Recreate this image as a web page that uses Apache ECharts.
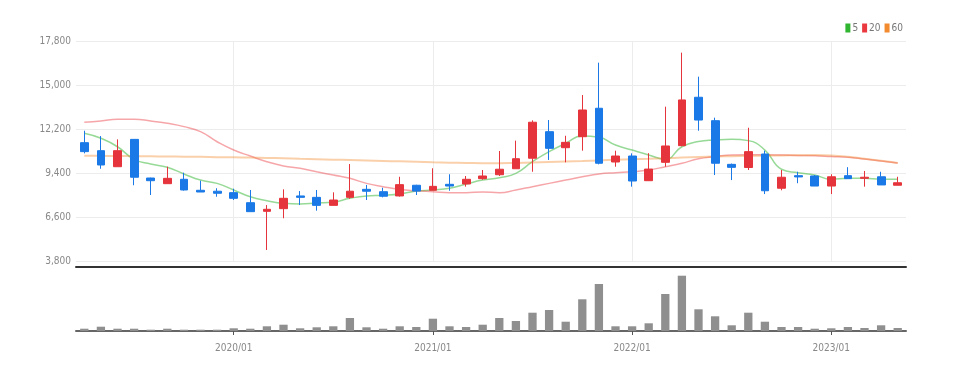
<!DOCTYPE html>
<html><head><meta charset="utf-8">
<script src="https://cdn.jsdelivr.net/npm/echarts@6/dist/echarts.min.js"></script>
<style>html,body{margin:0;padding:0;background:#fff}#c{width:956px;height:372px}</style>
</head><body><div id="c"></div>
<script>
const categories = ['2019/04','2019/05','2019/06','2019/07','2019/08','2019/09','2019/10','2019/11','2019/12',
  '2020/01','2020/02','2020/03','2020/04','2020/05','2020/06','2020/07','2020/08','2020/09','2020/10','2020/11','2020/12',
  '2021/01','2021/02','2021/03','2021/04','2021/05','2021/06','2021/07','2021/08','2021/09','2021/10','2021/11','2021/12',
  '2022/01','2022/02','2022/03','2022/04','2022/05','2022/06','2022/07','2022/08','2022/09','2022/10','2022/11','2022/12',
  '2023/01','2023/02','2023/03','2023/04','2023/05'];
const openValues  = [11330,10820,9800,11540,9080,8720,9000,8300,8240,8150,7510,6960,7130,7940,7850,7340,7850,8360,8210,7940,8620,8300,8680,8700,9040,9290,9670,10340,12030,11010,11710,13520,10100,10480,8910,10080,11140,14220,12730,9950,9750,10610,8430,9230,9210,8570,9230,9060,9160,8620];
const closeValues = [10760,9910,10820,9130,8910,9060,8320,8190,8110,7790,6940,7090,7790,7850,7340,7680,8240,8240,7920,8660,8250,8550,8570,9000,9210,9640,10310,12630,10970,11350,13410,10020,10480,8890,9650,11120,14050,12770,10020,9760,10760,8270,9130,9150,8570,9160,9040,9130,8640,8780];
const lowValues   = [10650,9670,9800,8620,8000,8720,8280,8190,7890,7680,6940,4500,6520,7360,7000,7340,7760,7680,7850,7900,8000,8300,8270,8530,8970,9210,9670,9480,10230,10080,10820,9950,9800,8530,8890,9800,11100,12090,9270,8950,9590,8060,8300,8750,8570,8060,9040,8530,8640,8620];
const highValues  = [12090,11750,11540,11540,9100,9800,9420,8910,8430,8400,8320,7360,8360,8250,8320,8170,9970,8640,8460,9160,8650,9700,9320,9210,9590,10800,11460,12750,12770,11770,14360,16420,10820,10650,10660,13620,17060,15530,12920,10000,12280,10820,9590,9480,9270,9320,9770,9530,9480,9160];
const ma5  = [11930,11610,11070,10270,9970,9760,9340,8950,8740,8320,7890,7640,7470,7430,7490,7550,7790,7940,7980,8060,8250,8320,8430,8700,8950,9100,9380,10120,10760,11290,11750,11670,11180,10860,10550,10270,11070,11400,11500,11550,11460,10860,9640,9420,9270,9000,9060,9060,9000,9000];
const ma20 = [12630,12710,12820,12820,12710,12560,12350,12030,11390,10860,10480,10120,9850,9700,9480,9270,9060,8740,8530,8360,8270,8210,8150,8150,8190,8150,8320,8530,8740,8950,9160,9340,9420,9480,9590,9800,10020,10300,10440,10550,10560,10560,10540,10520,10500,10450,10400,10290,10170,10030];
const ma60 = [10500,10490,10480,10470,10460,10450,10440,10430,10410,10400,10380,10360,10340,10310,10280,10250,10230,10200,10170,10140,10110,10080,10060,10040,10020,10020,10040,10070,10100,10130,10160,10200,10240,10270,10300,10340,10380,10420,10450,10470,10490,10500,10520,10530,10540,10520,10440,10300,10180,10030];
const volumes = [23,43,23,23,13,23,13,13,13,27,23,47,63,27,37,47,130,37,23,47,40,123,47,40,63,130,100,183,210,93,317,470,47,47,77,370,553,217,147,57,183,93,40,40,23,27,40,30,57,30];
const yTickValues = [3800,6600,9400,12200,15000,17800];
const legendNames = ['5','20','60'];

const FONT = '"Liberation Sans Narrow", "DejaVu Sans Condensed", "Liberation Sans", Arial, sans-serif';
const isJan = (i, v) => String(v).endsWith('/01');
const candleData = openValues.map((o, i) => [o, closeValues[i], lowValues[i], highValues[i]]);

const chart = echarts.init(document.getElementById('c'), null, {renderer: 'canvas'});
chart.setOption({
  animation: false,
  backgroundColor: '#fff',
  textStyle: {fontFamily: FONT},
  legend: {
    data: legendNames, right: 48, top: 18, icon: 'rect', itemWidth: 5, itemHeight: 9, itemGap: 4,
    textStyle: {color: '#777', fontSize: 10, fontFamily: FONT, padding: [0,0,0,-3]}
  },
  grid: [
    {left: 76, right: 50, top: 41, height: 220},
    {left: 76, right: 50, top: 267, height: 64}
  ],
  xAxis: [
    {type: 'category', gridIndex: 0, data: categories, boundaryGap: true,
     axisLine: {show: false}, axisTick: {show: false}, axisLabel: {show: false},
     splitLine: {show: true, interval: isJan, alignWithLabel: true, lineStyle: {color: '#ececec', width: 1}}},
    {type: 'category', gridIndex: 1, data: categories, boundaryGap: true, position: 'bottom',
     axisLine: {show: true, lineStyle: {color: '#666', width: 2}},
     axisTick: {show: true, alignWithLabel: true, interval: isJan, length: 4, lineStyle: {color: '#555'}},
     axisLabel: {interval: isJan, color: '#888', fontSize: 10, fontFamily: FONT, margin: 12},
     splitLine: {show: false}},
    {type: 'category', gridIndex: 1, data: categories, position: 'top',
     axisLine: {show: true, lineStyle: {color: '#333', width: 2}},
     axisTick: {show: false}, axisLabel: {show: false}}
  ],
  yAxis: [
    {type: 'value', gridIndex: 0, min: yTickValues[0], max: yTickValues[yTickValues.length - 1],
     interval: yTickValues[1] - yTickValues[0],
     axisLine: {show: false}, axisTick: {show: false},
     axisLabel: {color: '#888', fontSize: 10, fontFamily: FONT, margin: 5,
       formatter: v => v.toLocaleString('en-US')},
     splitLine: {lineStyle: {color: '#ececec'}}},
    {type: 'value', gridIndex: 1, min: 0, max: 640, show: false, splitLine: {show: false}}
  ],
  series: [
    {name: '5', type: 'line', data: ma5, smooth: true, showSymbol: false, symbol: 'none',
     itemStyle: {color: '#2fb52f'}, lineStyle: {color: '#2fb52f', width: 1.5, opacity: 0.5}, z: 2},
    {name: '20', type: 'line', data: ma20, smooth: true, showSymbol: false, symbol: 'none',
     itemStyle: {color: '#ea3a40'}, lineStyle: {color: '#ea3a40', width: 1.5, opacity: 0.45}, z: 2},
    {name: '60', type: 'line', data: ma60, smooth: true, showSymbol: false, symbol: 'none',
     itemStyle: {color: '#f28a2e'}, lineStyle: {color: '#f28a2e', width: 2, opacity: 0.4}, z: 2},
    {type: 'candlestick', data: candleData, xAxisIndex: 0, yAxisIndex: 0, barWidth: '50%', z: 3,
     itemStyle: {color: '#e5343b', color0: '#1a79e6', borderColor: '#e5343b', borderColor0: '#1a79e6', borderWidth: 1}},
    {type: 'bar', data: volumes, xAxisIndex: 1, yAxisIndex: 1, barWidth: '50%',
     itemStyle: {color: '#8f8f8f'}}
  ]
});
</script></body></html>
